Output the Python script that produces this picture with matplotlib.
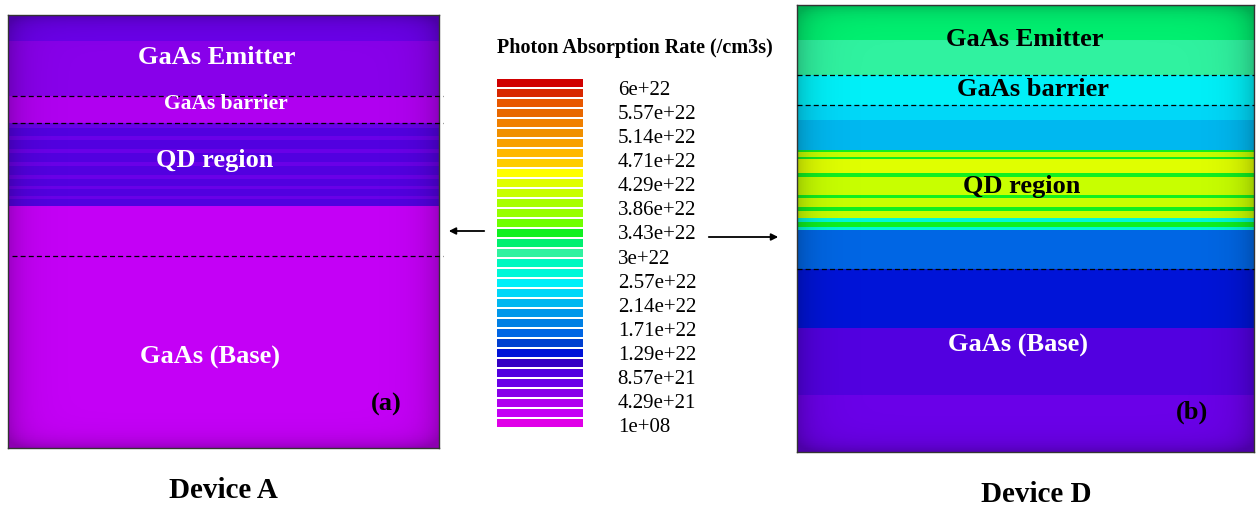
import numpy as np
import matplotlib
matplotlib.use("Agg")
import matplotlib.pyplot as plt
from matplotlib.colors import ListedColormap, BoundaryNorm

plt.rcParams['font.family'] = ['Liberation Serif', 'DejaVu Serif']

# legend scale (photon absorption rate, /cm3s)
rate_max = 6e22
n_levels = 35
level_colors = ['#e000e8', '#c400f6', '#b000f0', '#8800ea', '#6a00e8', '#5200e0', '#3400c4',
                '#0014d8', '#0040d0', '#0066e4', '#0080e4', '#0098ea', '#00b8f0', '#00d8f8',
                '#00f0f8', '#00f8d8', '#00f8c0', '#30f2a0', '#00f070', '#10f020', '#70ff00',
                '#98ff00', '#a8ff00', '#c8ff00', '#e0ff00', '#ffff00', '#ffcc00', '#ffb800',
                '#f8a000', '#f09000', '#f08000', '#e86800', '#e85800', '#d82800', '#d00000']
tick_values = np.linspace(0, rate_max, 15)
tick_labels = ['1e+08', '4.29e+21', '8.57e+21', '1.29e+22', '1.71e+22', '2.14e+22', '2.57e+22',
               '3e+22', '3.43e+22', '3.86e+22', '4.29e+22', '4.71e+22', '5.14e+22', '5.57e+22', '6e+22']

# Device A: depth edges (normalised) and absorption rate per slab
depth_a = [0.0, 0.06, 0.187, 0.25, 0.262, 0.28, 0.288, 0.31, 0.318, 0.34, 0.348, 0.37,
           0.378, 0.395, 0.403, 0.418, 0.426, 0.44, 1.0]
rate_a = [7.71e21, 6.0e21, 4.29e21, 7.71e21, 9.43e21, 7.71e21, 9.43e21, 7.71e21, 9.43e21,
          7.71e21, 9.43e21, 7.71e21, 9.43e21, 7.71e21, 9.43e21, 7.71e21, 9.43e21, 2.57e21]
dash_a = [0.187, 0.25, 0.557]

# Device D
depth_d = [0.0, 0.078, 0.157, 0.224, 0.257, 0.324, 0.329, 0.340, 0.345, 0.376, 0.385,
           0.425, 0.432, 0.452, 0.461, 0.477, 0.486, 0.497, 0.503, 0.591, 0.723, 0.872, 1.0]
rate_d = [3.17e22, 3.0e22, 2.49e22, 2.31e22, 2.14e22, 3.34e22, 4.03e22, 3.34e22, 4.2e22,
          3.34e22, 4.03e22, 3.34e22, 4.03e22, 3.34e22, 4.03e22, 2.66e22, 3.34e22, 2.66e22,
          1.63e22, 1.29e22, 9.43e21, 7.71e21]
dash_d = [0.157, 0.224, 0.591]

W, H = 1256, 509
fig = plt.figure(figsize=(W / 100, H / 100), dpi=100)
cmap = ListedColormap(level_colors)
bounds = np.linspace(0, rate_max, n_levels + 1)
norm = BoundaryNorm(bounds, n_levels)


def px_axes(x0, y0, x1, y1):
    return fig.add_axes([x0 / W, 1 - y1 / H, (x1 - x0) / W, (y1 - y0) / H])


def vignette(ax):
    # soft darker rim like the simulator screenshot
    xs = np.linspace(0, 1, 200)
    ex = np.exp(-xs / 0.035) + np.exp(-(1 - xs) / 0.035)
    ey = np.exp(-xs / 0.02) + np.exp(-(1 - xs) / 0.02)
    a = np.clip(0.2 * (ex[None, :] + ey[:, None]), 0, 0.28)
    rgba = np.zeros((200, 200, 4))
    rgba[..., 3] = a
    ax.imshow(rgba, extent=(0, 1, 1, 0), aspect='auto', zorder=2)


def draw_device(ax, depth, rate, dashes, x_from=0.0, x_to=1.0):
    ax.pcolormesh([0, 1], depth, np.array(rate)[:, None], cmap=cmap, norm=norm,
                  shading='flat', antialiased=False)
    vignette(ax)
    ax.set_xlim(0, 1)
    ax.set_ylim(1, 0)
    ax.set_xticks([])
    ax.set_yticks([])
    for s in ax.spines.values():
        s.set_linewidth(1.0)
        s.set_color('#333333')
    for d in dashes:
        ax.plot([x_from, x_to], [d, d], color='black', lw=0.9, ls=(0, (4, 2.5)),
                clip_on=False, zorder=3)


ax_a = px_axes(8, 15, 439, 448)
draw_device(ax_a, depth_a, rate_a, dash_a, x_from=0.01, x_to=1.01)
ax_d = px_axes(797, 5, 1254, 452)
draw_device(ax_d, depth_d, rate_d, dash_d)

bold = dict(fontweight='bold', ha='center', va='center')
for ax, x0, y0, x1, y1, items in [
    (ax_a, 8, 15, 439, 448, [("GaAs Emitter", 217, 58, 19, 'white'),
                              ("GaAs barrier", 226, 104, 15.5, 'white'),
                              ("QD region", 215, 161, 19, 'white'),
                              ("GaAs (Base)", 210, 357, 19, 'white'),
                              ("(a)", 386, 404, 19, 'black')]),
    (ax_d, 797, 5, 1254, 452, [("GaAs Emitter", 1025, 39, 19, 'black'),
                                ("GaAs barrier", 1033, 90, 19, 'black'),
                                ("QD region", 1022, 187, 19, 'black'),
                                ("GaAs (Base)", 1018, 345, 19, 'white'),
                                ("(b)", 1192, 412, 19, 'black')])]:
    for txt, tx, ty, fs, col in items:
        ax.text((tx - x0) / (x1 - x0), 1 - (ty - y0) / (y1 - y0), txt, fontsize=fs, color=col,
                transform=ax.transAxes, zorder=4, **bold)

fig.text(223 / W, 1 - 490 / H, "Device A", fontsize=21, **bold)
fig.text(1036 / W, 1 - 494 / H, "Device D", fontsize=21, **bold)

# legend bands
ax_cb = px_axes(497, 78, 583, 428)
centers = (bounds[:-1] + bounds[1:]) / 2
ax_cb.barh(centers, 1, height=(bounds[1] - bounds[0]) * 0.74, left=0, color=level_colors)
ax_cb.set_xlim(0, 1)
ax_cb.set_ylim(0, rate_max)
ax_cb.axis('off')

ax_lab = px_axes(497, 88, 583, 425)
ax_lab.set_ylim(0, rate_max)
ax_lab.set_xlim(0, 1)
ax_lab.patch.set_visible(False)
for s in ax_lab.spines.values():
    s.set_visible(False)
ax_lab.set_xticks([])
ax_lab.yaxis.tick_right()
ax_lab.set_yticks(tick_values)
ax_lab.set_yticklabels(tick_labels)
ax_lab.tick_params(axis='y', length=0, pad=25, labelsize=15)

fig.text(635 / W, 1 - 48 / H, "Photon Absorption Rate (/cm3s)", fontsize=14.5,
         fontweight='bold', ha='center', va='center')

# arrows towards the two devices
fig.add_artist(matplotlib.patches.FancyArrowPatch((487 / W, 1 - 231 / H), (446 / W, 1 - 231 / H),
                                                  transform=fig.transFigure, arrowstyle='-|>',
                                                  mutation_scale=10, color='black', lw=1.3))
fig.add_artist(matplotlib.patches.FancyArrowPatch((706 / W, 1 - 237 / H), (781 / W, 1 - 237 / H),
                                                  transform=fig.transFigure, arrowstyle='-|>',
                                                  mutation_scale=10, color='black', lw=1.3))

fig.savefig("out.png", dpi=100)
